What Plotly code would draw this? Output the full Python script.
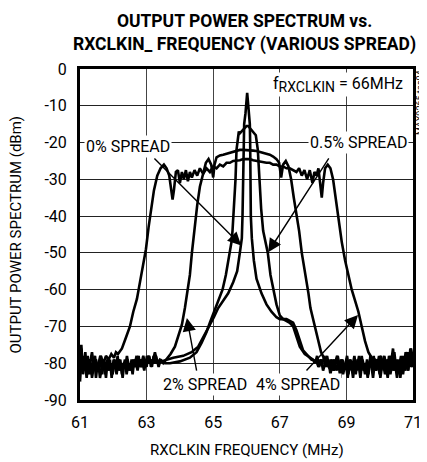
import plotly.graph_objects as go

# ---------------- data (frequency MHz, output power dBm) ----------------
spread_0 = [
    (61.00,-85),(61.05,-78),(61.10,-82),(61.15,-80),(61.20,-84),(61.25,-79),(61.30,-81),(61.35,-83),
    (61.40,-80),(61.45,-78),(61.50,-82),(61.55,-80),(61.60,-84),(61.65,-81),(61.70,-79),(61.75,-83),
    (61.80,-80),(61.85,-82),(61.90,-79),(61.95,-84),(62.00,-80),(62.05,-81),(62.10,-83),(62.15,-79),
    (62.20,-82),(62.25,-80),(62.30,-81),(62.35,-79),(62.40,-83),(62.45,-80),(62.50,-82),(62.55,-79),
    (62.60,-81),(62.65,-80),(62.70,-78),(62.75,-81),(62.80,-79),(62.85,-80),(62.90,-78),(62.95,-80),
    (63.00,-81),(63.05,-78),(63.10,-79),(63.15,-80),(63.20,-79),(63.25,-77),(63.30,-79),(63.35,-80),
    (63.45,-79.5),(63.60,-79),(63.80,-78.5),(64.10,-78),(64.35,-77),(64.55,-75.5),(64.70,-73),
    (64.82,-71),(64.92,-69.5),(65.02,-67.5),(65.15,-65),(65.30,-63),(65.45,-61),(65.60,-58),
    (65.72,-55),(65.80,-50),(65.86,-46),(65.88,-40),(65.90,-30),(65.91,-20),(65.93,-15),(65.97,-12),
    (66.00,-8.5),(66.02,-6.5),(66.04,-8.5),(66.07,-12),(66.10,-15),(66.11,-20),(66.12,-30),
    (66.13,-40),(66.16,-46),(66.22,-52),(66.30,-57),(66.45,-61),(66.60,-64),(66.75,-66),(66.90,-67.5),
    (67.00,-68),(67.10,-68),(67.20,-68.5),(67.30,-69),(67.40,-70),(67.50,-73),(67.60,-75.5),
    (67.75,-77.5),(67.90,-78.5),(68.00,-79),(68.06,-80),(68.12,-78),(68.18,-81),(68.24,-79),
    (68.30,-82),(68.36,-80),(68.42,-78),(68.48,-81),(68.54,-79),(68.60,-82),(68.66,-80),(68.72,-78),
    (68.78,-81),(68.84,-79),(68.90,-83),(68.96,-80),(69.02,-78),(69.08,-82),(69.14,-80),(69.20,-84),
    (69.26,-79),(69.32,-81),(69.38,-78),(69.44,-82),(69.50,-80),(69.56,-83),(69.62,-79),(69.68,-81),
    (69.74,-80),(69.80,-84),(69.86,-79),(69.92,-81),(69.98,-78),(70.04,-82),(70.10,-80),(70.16,-83),
    (70.22,-79),(70.28,-81),(70.34,-78),(70.40,-82),(70.46,-80),(70.52,-84),(70.58,-79),(70.64,-81),
    (70.70,-78),(70.76,-82),(70.82,-80),(70.88,-77),(70.94,-81),(71.00,-79),
]

spread_05 = [
    (61.00,-80),(61.04,-76),(61.08,-83),(61.13,-79),(61.18,-81),(61.23,-78),(61.28,-83),(61.33,-80),
    (61.38,-82),(61.43,-79),(61.48,-84),(61.53,-80),(61.58,-81),(61.63,-78),(61.68,-82),(61.73,-80),
    (61.78,-84),(61.83,-79),(61.88,-81),(61.93,-80),(61.98,-83),(62.03,-79),(62.08,-81),(62.13,-78),
    (62.18,-82),(62.23,-80),(62.28,-84),(62.33,-80),(62.38,-81),(62.43,-79),(62.48,-82),(62.53,-80),
    (62.58,-83),(62.63,-79),(62.68,-80),(62.73,-82),(62.78,-79),(62.83,-81),(62.88,-80),(62.93,-82),
    (62.98,-79),(63.03,-80),(63.08,-78),(63.13,-81),(63.18,-79),(63.23,-80),(63.28,-78),(63.33,-80),
    (63.40,-79),(63.55,-80),(63.70,-80),(64.00,-79.5),(64.30,-78.5),(64.50,-77),(64.65,-74.5),
    (64.80,-71.5),(64.90,-69),(65.02,-66),(65.15,-63),(65.28,-60),(65.38,-56),(65.48,-51),
    (65.55,-47),(65.58,-44),(65.62,-38),(65.67,-30),(65.70,-22),(65.74,-18),(65.77,-17),(65.80,-17.5),
    (65.85,-17),(65.90,-16.5),(65.95,-16),(66.00,-15.5),(66.05,-15.5),(66.10,-16),(66.15,-16.5),
    (66.20,-17),(66.25,-17.5),(66.28,-18),(66.34,-22),(66.38,-30),(66.44,-38),(66.50,-44),
    (66.56,-47),(66.64,-50),(66.72,-56),(66.80,-60),(66.90,-64),(67.00,-67),(67.10,-68),(67.20,-68),
    (67.30,-68.5),(67.40,-69),(67.50,-71),(67.60,-74),(67.70,-76.5),(67.80,-77.5),(67.95,-79),
    (68.10,-79.5),(68.16,-81),(68.22,-79),(68.28,-80),(68.34,-78),(68.40,-81),(68.46,-79),(68.52,-83),
    (68.58,-80),(68.64,-79),(68.70,-82),(68.76,-80),(68.82,-84),(68.88,-79),(68.94,-81),(69.00,-80),
    (69.06,-83),(69.12,-79),(69.18,-81),(69.24,-78),(69.30,-82),(69.36,-80),(69.42,-84),(69.48,-79),
    (69.54,-81),(69.60,-80),(69.66,-83),(69.72,-78),(69.78,-81),(69.84,-80),(69.90,-82),(69.96,-79),
    (70.02,-84),(70.08,-80),(70.14,-78),(70.20,-81),(70.26,-79),(70.32,-83),(70.38,-80),(70.44,-77),
    (70.50,-82),(70.56,-80),(70.62,-84),(70.68,-79),(70.74,-81),(70.80,-78),(70.86,-82),(70.92,-76),
    (70.97,-80),(71.00,-78),
]

spread_2 = [
    (61.00,-82),(61.06,-79),(61.11,-81),(61.16,-77),(61.21,-83),(61.26,-80),(61.31,-79),(61.36,-84),
    (61.41,-81),(61.46,-79),(61.51,-82),(61.56,-80),(61.61,-78),(61.66,-83),(61.71,-80),(61.76,-81),
    (61.81,-79),(61.86,-82),(61.91,-80),(61.96,-83),(62.01,-79),(62.06,-80),(62.11,-82),(62.16,-80),
    (62.21,-79),(62.26,-83),(62.31,-80),(62.36,-81),(62.41,-78),(62.46,-81),(62.51,-80),(62.56,-82),
    (62.61,-79),(62.66,-81),(62.71,-80),(62.76,-78),(62.81,-81),(62.86,-80),(62.91,-79),(62.96,-81),
    (63.01,-78),(63.06,-80),(63.11,-79),(63.16,-81),(63.21,-78),(63.26,-80),(63.31,-79),(63.36,-81),
    (63.42,-79),(63.50,-80),(63.60,-79),(63.72,-77.5),(63.85,-75.5),(63.96,-72.5),(64.06,-69.5),
    (64.15,-65),(64.24,-60),(64.30,-56),(64.36,-50),(64.44,-43),(64.52,-37),(64.60,-32),(64.70,-28.5),
    (64.78,-25.5),(64.86,-24.5),(64.94,-26),(65.00,-29.5),(65.04,-26),(65.10,-24),(65.20,-23.5),
    (65.30,-23.3),(65.40,-23),(65.50,-22.8),(65.60,-22.5),(65.70,-22.3),(65.80,-22),(65.90,-22),
    (66.00,-22),(66.10,-22),(66.20,-22.2),(66.30,-22.3),(66.40,-22.5),(66.50,-22.8),(66.60,-23),
    (66.70,-23.3),(66.80,-23.8),(66.90,-24.5),(66.98,-25.5),(67.04,-29.5),(67.10,-26),(67.18,-25),
    (67.26,-26.5),(67.34,-30),(67.42,-35),(67.50,-39),(67.58,-44),(67.66,-50),(67.74,-54),(67.80,-57),
    (67.86,-61),(67.92,-65),(68.00,-68),(68.08,-71),(68.16,-74),(68.24,-77),(68.32,-78.5),(68.42,-80),
    (68.50,-81.5),(68.56,-79),(68.62,-82),(68.68,-80),(68.74,-78),(68.80,-81),(68.86,-79),(68.92,-82),
    (68.98,-80),(69.04,-84),(69.10,-79),(69.16,-81),(69.22,-80),(69.28,-83),(69.34,-79),(69.40,-81),
    (69.46,-78),(69.52,-82),(69.58,-80),(69.64,-84),(69.70,-80),(69.76,-81),(69.82,-78),(69.88,-82),
    (69.94,-80),(70.00,-83),(70.06,-79),(70.12,-81),(70.18,-80),(70.24,-84),(70.30,-79),(70.36,-81),
    (70.42,-78),(70.48,-82),(70.54,-80),(70.60,-83),(70.66,-79),(70.72,-81),(70.78,-77),(70.84,-82),
    (70.90,-79),(70.96,-81),(71.00,-80),
]

spread_4 = [
    (61.00,-79),(61.04,-75),(61.08,-81),(61.12,-78),(61.18,-83),(61.24,-79),(61.30,-80),(61.36,-77),
    (61.42,-81),(61.48,-79),(61.55,-82),(61.62,-78),(61.70,-80),(61.78,-78),(61.86,-79),(61.94,-77.5),
    (62.02,-78.5),(62.08,-77),(62.14,-77.5),(62.26,-76),(62.38,-73),(62.50,-70),(62.60,-66),
    (62.71,-62.5),(62.82,-57),(62.90,-53),(62.98,-49),(63.06,-43),(63.14,-38),(63.22,-33),(63.32,-29),
    (63.42,-27),(63.52,-26),(63.60,-27),(63.68,-29),(63.74,-33),(63.78,-35.5),(63.82,-33),(63.88,-28),
    (63.94,-27.5),(64.00,-31),(64.06,-28),(64.12,-30),(64.18,-27.5),(64.24,-30.5),(64.30,-28),
    (64.36,-29.5),(64.44,-27.5),(64.52,-29),(64.60,-27),(64.70,-28.5),(64.80,-27),(64.90,-28),
    (65.00,-26.5),(65.10,-27),(65.20,-26),(65.30,-26.5),(65.40,-25.5),(65.50,-25.5),(65.60,-25),
    (65.70,-25),(65.80,-24.8),(65.90,-24.5),(66.00,-24.5),(66.10,-24.5),(66.20,-24.8),(66.30,-25),
    (66.40,-25),(66.50,-25.3),(66.60,-25.5),(66.70,-25.5),(66.80,-26),(66.90,-26),(67.00,-26.5),
    (67.10,-26.5),(67.20,-27),(67.30,-27),(67.40,-27.5),(67.50,-28),(67.58,-27),(67.66,-29),
    (67.74,-27.5),(67.82,-30),(67.90,-27.5),(67.98,-31),(68.04,-28),(68.10,-29),(68.16,-27),
    (68.22,-31),(68.26,-35),(68.30,-31),(68.36,-27),(68.44,-26),(68.52,-27),(68.60,-30),(68.68,-35),
    (68.76,-41),(68.86,-47),(68.96,-52),(69.06,-56),(69.16,-60),(69.26,-63),(69.36,-66),(69.46,-70),
    (69.56,-74),(69.66,-77),(69.76,-78.5),(69.86,-79),(69.96,-79.5),(70.04,-78),(70.10,-81),
    (70.16,-79),(70.22,-83),(70.28,-78),(70.34,-80),(70.40,-76),(70.46,-82),(70.52,-79),(70.58,-81),
    (70.64,-78),(70.70,-83),(70.76,-79),(70.82,-77),(70.88,-80),(70.94,-76),(71.00,-79),
]

x_ticks = [61, 63, 65, 67, 69, 71]
y_ticks = [0, -10, -20, -30, -40, -50, -60, -70, -80, -90]

# label text, label position (MHz, dBm), arrow tail, arrow tip
labels = [
    ("0% SPREAD", 62.44, -21.0, (63.19, -23.9), (65.84, -48.0)),
    ("0.5% SPREAD", 69.36, -20.0, (68.50, -23.9), (66.65, -49.8)),
    ("2% SPREAD", 64.75, -85.8, (64.51, -82.4), (64.21, -67.7)),
    ("4% SPREAD", 67.55, -85.8, (67.76, -82.4), (69.35, -66.9)),
]

FONT = "Roboto, Liberation Sans, sans-serif"

fig = go.Figure()
for series in (spread_4, spread_2, spread_05, spread_0):
    fig.add_trace(go.Scatter(
        x=[p[0] for p in series], y=[p[1] for p in series],
        mode="lines", line=dict(color="black", width=2.6),
        showlegend=False, hoverinfo="skip"))

annotations = []
for text, lx, ly, tail, tip in labels:
    annotations.append(dict(
        x=tip[0], y=tip[1], ax=tail[0], ay=tail[1], xref="x", yref="y",
        axref="x", ayref="y", text="", showarrow=True, arrowhead=2,
        arrowsize=1.9, arrowwidth=1.4, arrowcolor="black"))
    annotations.append(dict(
        x=lx, y=ly, xref="x", yref="y", text=text, showarrow=False,
        bgcolor="white", borderpad=1,
        font=dict(family=FONT, size=16, color="black")))

annotations += [
    dict(x=0.976, y=0.952, xref="paper", yref="paper", xanchor="right", yanchor="middle",
         text="f<sub><span style='font-size:14px'>RXCLKIN</span></sub> = 66MHz",
         showarrow=False, bgcolor="white", borderpad=1,
         font=dict(family=FONT, size=16, color="black")),
    dict(x=1.021, y=0.90, xref="paper", yref="paper", xanchor="center", yanchor="middle",
         text="MAX9265 toc04", textangle=-90,
         showarrow=False, font=dict(family=FONT, size=9, color="black")),
    dict(x=0.4925, y=1.11, xref="paper", yref="paper", xanchor="center", yanchor="middle",
         text="<b>OUTPUT POWER SPECTRUM vs.<br>RXCLKIN_ FREQUENCY (VARIOUS SPREAD)</b>",
         showarrow=False, font=dict(family=FONT, size=17.5, color="black")),
    dict(x=-0.195, y=0.5, xref="paper", yref="paper", xanchor="center", yanchor="middle",
         text="OUTPUT POWER SPECTRUM (dBm)",
         textangle=-90, showarrow=False, font=dict(family=FONT, size=15, color="black")),
    dict(x=0.5, y=-0.151, xref="paper", yref="paper", xanchor="center", yanchor="middle",
         text="RXCLKIN FREQUENCY (MHz)",
         showarrow=False, font=dict(family=FONT, size=15, color="black")),
]

# the page body has an 8px margin, so the figure is sized to the remaining window
fig.update_layout(
    width=419, height=454,
    margin=dict(l=72, r=14, t=61, b=62, autoexpand=False),
    paper_bgcolor="white", plot_bgcolor="white",
    annotations=annotations,
    font=dict(family=FONT, size=16, color="black"),
)
fig.update_xaxes(range=[61, 71], tickvals=x_ticks, ticktext=[str(v) for v in x_ticks],
                 showgrid=True, gridcolor="#444", gridwidth=1, zeroline=False,
                 showline=True, linecolor="black", linewidth=3, mirror=True, automargin=False,
                 ticks="", ticklabelstandoff=6, tickfont=dict(family=FONT, size=16))
fig.update_yaxes(range=[-90, 0], tickvals=y_ticks, ticktext=[str(v) for v in y_ticks],
                 showgrid=True, gridcolor="#222", gridwidth=1, zeroline=False,
                 showline=True, linecolor="black", linewidth=3, mirror=True, automargin=False,
                 ticks="", ticklabelstandoff=7, tickfont=dict(family=FONT, size=16))

fig.write_html("out.html")
